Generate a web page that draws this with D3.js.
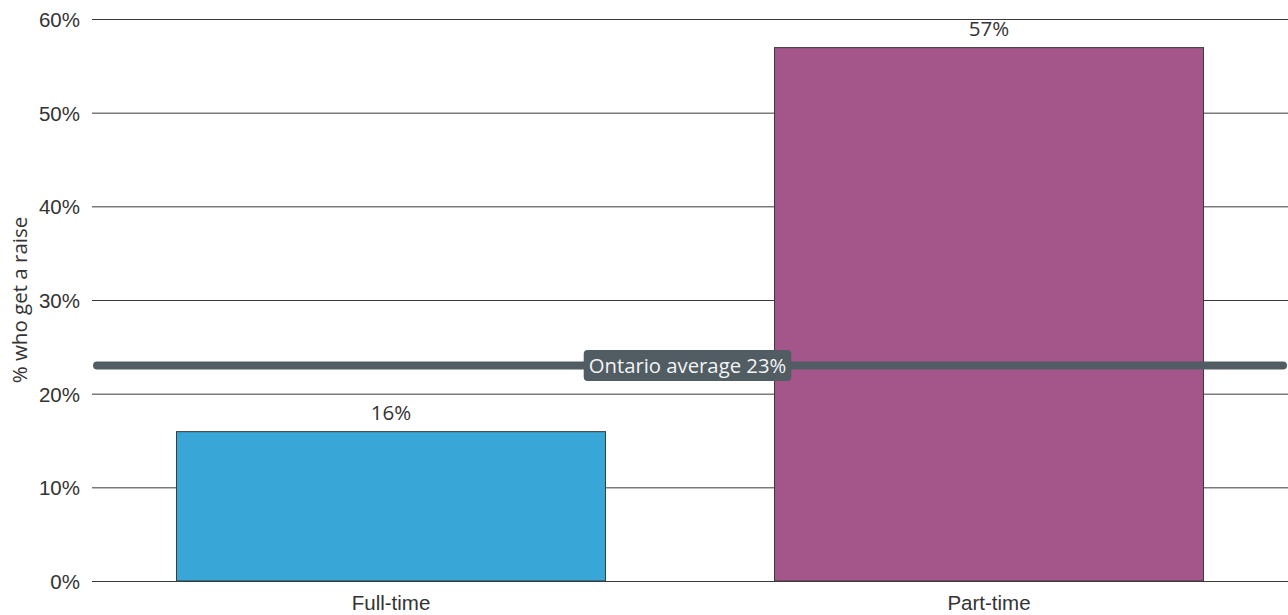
<!DOCTYPE html>
<html>
<head>
<meta charset="utf-8">
<script src="https://cdn.jsdelivr.net/npm/d3@7"></script>
<style>
  html, body { margin: 0; padding: 0; background: #fff; }
  svg { display: block; font-family: "Open Sans", sans-serif; }
</style>
</head>
<body>
<svg id="chart" width="1288" height="615"></svg>
<script>
const categories = ["Full-time", "Part-time"];
const values = [16, 57];
const barColors = ["#38a6d6", "#a4568a"];
const yTicks = [0, 10, 20, 30, 40, 50, 60];
const averageValue = 23;
const averageLabel = "Ontario average 23%";
const yTitle = "% who get a raise";

const W = 1288, H = 615;
const margin = { top: 19, right: 0, bottom: 34, left: 92 };
const svg = d3.select("#chart");

const x = d3.scaleBand().domain(categories)
  .range([margin.left, W - margin.right])
  .paddingInner(0.281).paddingOuter(0.1405);
const y = d3.scaleLinear().domain([0, 60]).range([H - margin.bottom, margin.top]);

// gridlines + tick labels
const yAxis = d3.axisLeft(y).tickValues(yTicks).tickFormat(d => d + "%")
  .tickSize(-(W - margin.left - margin.right)).tickPadding(12);
const gy = svg.append("g").attr("transform", `translate(${margin.left},0)`).call(yAxis);
gy.select(".domain").remove();
gy.selectAll(".tick line").attr("stroke", "#3a3a3a").attr("stroke-width", 1);
gy.selectAll(".tick text").attr("fill", "#333").style("font-size", "20.5px").attr("dy", "0.36em");

// bars
svg.append("g").selectAll("rect").data(categories).join("rect")
  .attr("x", d => x(d) + 0.5)
  .attr("y", (d, i) => y(values[i]) + 0.5)
  .attr("width", x.bandwidth() - 1)
  .attr("height", (d, i) => y(0) - y(values[i]) - 0.5)
  .attr("fill", (d, i) => barColors[i])
  .attr("stroke", "#3a3a3a").attr("stroke-width", 1);

// value labels
svg.append("g").selectAll("text").data(categories).join("text")
  .attr("x", d => x(d) + x.bandwidth() / 2)
  .attr("y", (d, i) => y(values[i]) - 11)
  .attr("text-anchor", "middle")
  .attr("fill", "#333").style("font-size", "20.5px")
  .text((d, i) => values[i] + "%");

// category labels
const xAxis = d3.axisBottom(x).tickSize(0).tickPadding(14);
const gx = svg.append("g").attr("transform", `translate(0,${y(0)})`).call(xAxis);
gx.select(".domain").remove();
gx.selectAll(".tick text").attr("fill", "#333").style("font-size", "20.5px");

// average line
const avgY = y(averageValue);
svg.append("line")
  .attr("x1", margin.left + 5).attr("x2", W - 5)
  .attr("y1", avgY).attr("y2", avgY)
  .attr("stroke", "#515c63").attr("stroke-width", 8).attr("stroke-linecap", "round");

// average label
const cx = (margin.left + W - margin.right) / 2 - 2.5;
const lg = svg.append("g");
const lt = lg.append("text")
  .attr("x", cx).attr("y", avgY).attr("dy", "0.36em")
  .attr("text-anchor", "middle").attr("fill", "#f2f4f5")
  .style("font-size", "20.3px").text(averageLabel);
const bb = lt.node().getBBox();
lg.insert("rect", "text")
  .attr("x", cx - bb.width / 2 - 5).attr("y", avgY - 15.5)
  .attr("width", bb.width + 10).attr("height", 31)
  .attr("rx", 4).attr("fill", "#515c63");

// y title
svg.append("text")
  .attr("transform", `translate(27,${(y(0) + y(60)) / 2}) rotate(-90)`)
  .attr("text-anchor", "middle").attr("fill", "#333")
  .style("font-size", "20.5px").text(yTitle);
</script>
</body>
</html>
